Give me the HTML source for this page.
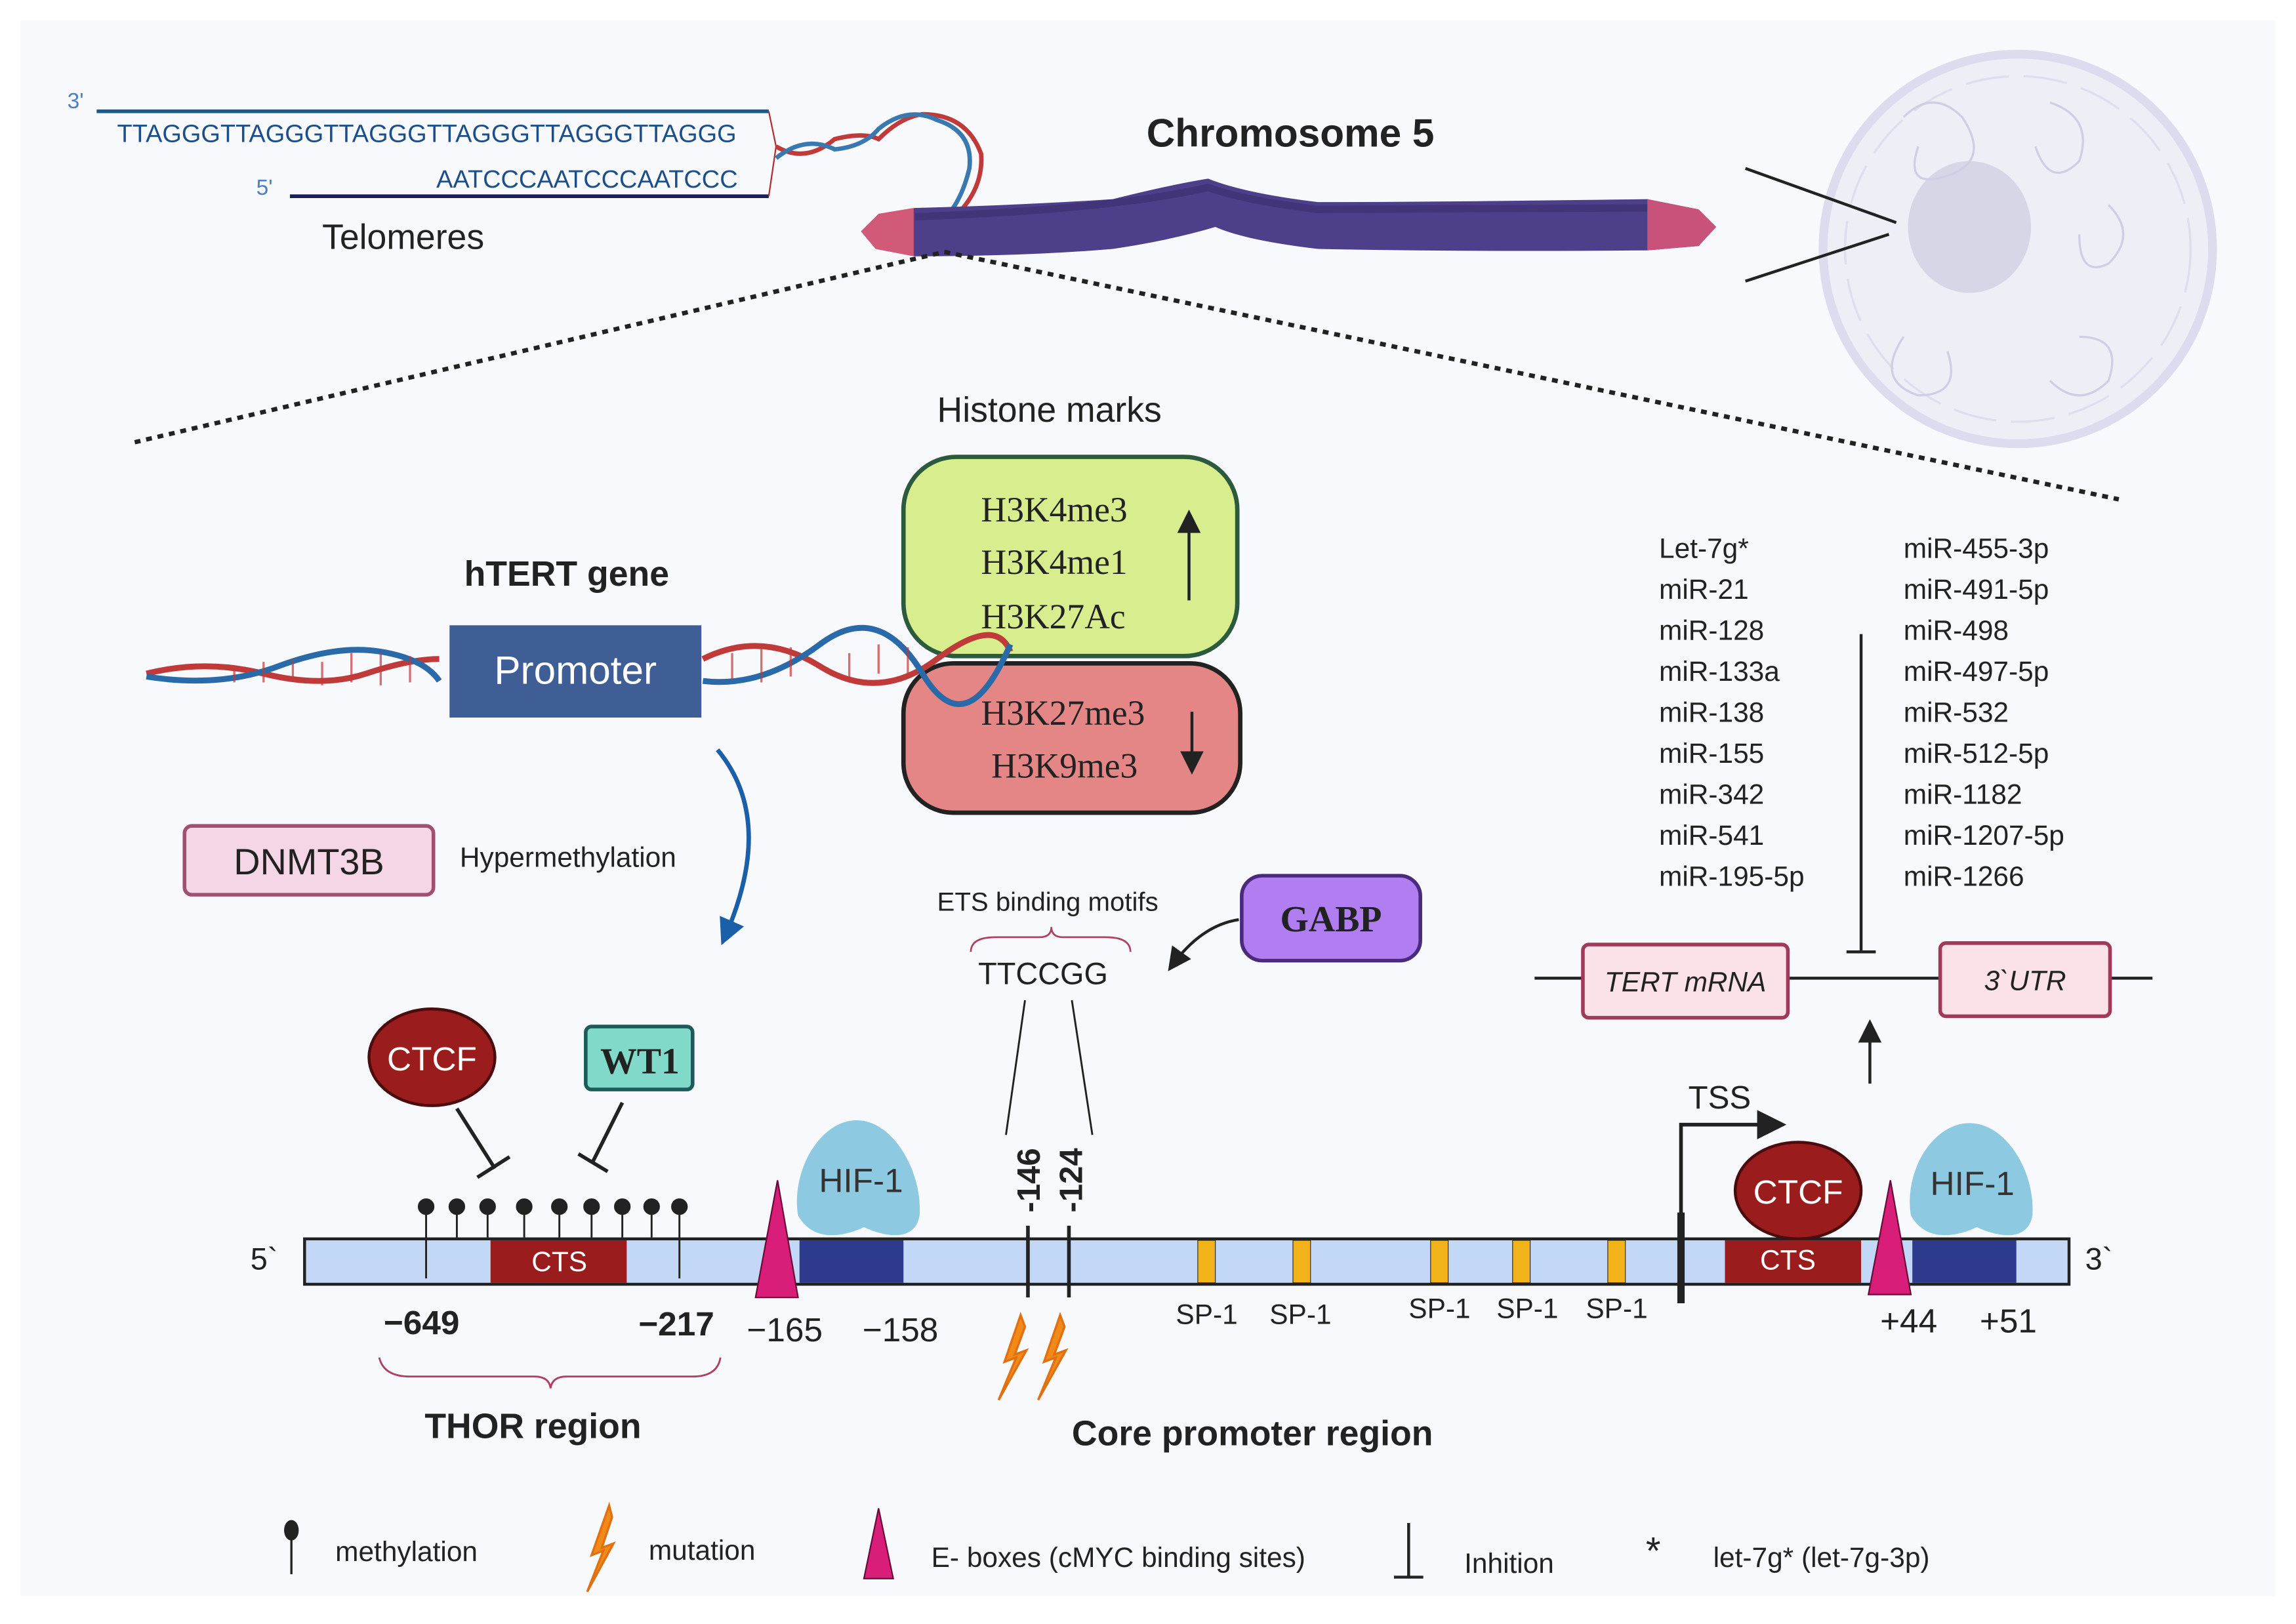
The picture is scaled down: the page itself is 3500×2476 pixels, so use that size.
<!DOCTYPE html>
<html><head><meta charset="utf-8"><style>
html,body{margin:0;padding:0;background:#fff}
svg{display:block}
text{font-family:"Liberation Sans",sans-serif}
.s{font-family:"Liberation Serif",serif}
</style></head><body>
<svg width="3500" height="2476" viewBox="0 0 1568 1109" preserveAspectRatio="none" xmlns="http://www.w3.org/2000/svg">
<defs>
<marker id="ah" markerWidth="8" markerHeight="8" refX="6" refY="4" orient="auto"><path d="M0,0 L8,4 L0,8 z" fill="#222"/></marker>
<marker id="ab" markerWidth="6" markerHeight="6" refX="4" refY="3" orient="auto"><path d="M0,0 L6,3 L0,6 z" fill="#1a5fa8"/></marker>
</defs>
<rect x="0" y="0" width="1568" height="1109" fill="#fff"/>
<rect x="14" y="14" width="1540" height="1076" fill="#f8f9fc"/>

<!-- telomeres -->
<text x="46" y="74" font-size="15" fill="#4a7fc4">3'</text>
<line x1="66" y1="76" x2="525" y2="76" stroke="#1c5a8a" stroke-width="2.5"/>
<text x="80" y="97" font-size="17" fill="#1c4f8a">TTAGGGTTAGGGTTAGGGTTAGGGTTAGGGTTAGGG</text>
<text x="298" y="128" font-size="17" fill="#1c4f8a">AATCCCAATCCCAATCCC</text>
<text x="175" y="133" font-size="15" fill="#4a7fc4">5'</text>
<line x1="198" y1="134" x2="525" y2="134" stroke="#1a1f5a" stroke-width="2.5"/>
<path d="M525,76 L530,100 L525,134" fill="none" stroke="#b03030" stroke-width="1"/>
<path d="M530,100 Q550,112 570,95 Q590,90 600,95 Q615,80 630,78 Q660,78 670,105 Q672,130 650,150 Q630,165 620,150" fill="none" stroke="#c03a3a" stroke-width="3"/>
<path d="M530,108 Q550,92 570,102 Q590,100 600,88 Q620,72 640,82 Q665,90 662,115 Q655,145 635,158 Q615,160 608,148" fill="none" stroke="#3a78b0" stroke-width="3"/>
<text x="220" y="170" font-size="24" fill="#222">Telomeres</text>

<!-- chromosome -->
<text x="783" y="100" font-size="27" font-weight="bold" fill="#222">Chromosome 5</text>
<path d="M600,146 L625,142 Q700,140 760,136 Q800,126 825,122 Q850,132 900,138 Q980,138 1125,136 L1160,143 L1172,155 L1160,168 L1125,171 Q1000,172 900,170 Q850,164 830,155 Q800,164 760,170 Q700,175 625,175 L598,170 L588,158 z" fill="#4e3f8a"/>
<path d="M600,146 L624,142 L624,175 L598,170 L588,158 z" fill="#d05a78"/>
<path d="M1125,136 L1160,143 L1172,155 L1160,168 L1125,171 z" fill="#c8527a"/>
<path d="M625,148 Q760,143 825,128 Q850,137 900,143 L1125,142" fill="none" stroke="#3a2d6e" stroke-width="5" opacity="0.6"/>

<!-- cell -->
<circle cx="1378" cy="170" r="133" fill="#eeeef7" stroke="#dcdcee" stroke-width="6"/>
<circle cx="1378" cy="170" r="118" fill="none" stroke="#dedeee" stroke-width="1.5" stroke-dasharray="30 10"/>
<ellipse cx="1345" cy="155" rx="42" ry="45" fill="#d6d6e6"/>
<path d="M1300,80 q20,-20 40,0 q20,30 -10,40 q-30,10 -20,-20 M1400,70 q30,10 20,40 q-20,20 -30,-10 M1420,230 q30,0 20,30 q-20,20 -40,0 M1300,230 q-20,30 10,40 q30,0 20,-30 M1440,140 q20,20 0,40 q-20,10 -20,-20" fill="none" stroke="#cfcfe3" stroke-width="1.5"/>
<line x1="1192" y1="115" x2="1295" y2="152" stroke="#222" stroke-width="2"/>
<line x1="1192" y1="192" x2="1290" y2="160" stroke="#222" stroke-width="2"/>

<!-- dashed zoom lines -->
<line x1="92" y1="302" x2="645" y2="172" stroke="#222" stroke-width="3" stroke-dasharray="4 4"/>
<line x1="645" y1="172" x2="1447" y2="341" stroke="#222" stroke-width="3" stroke-dasharray="4 4"/>

<!-- histone -->
<text x="640" y="288" font-size="24" fill="#222">Histone marks</text>
<rect x="617" y="312" width="228" height="136" rx="36" fill="#d8ee8e" stroke="#2c5a3c" stroke-width="3"/>
<text class="s" x="670" y="356" font-size="24" fill="#222">H3K4me3</text>
<text class="s" x="670" y="392" font-size="24" fill="#222">H3K4me1</text>
<text class="s" x="670" y="429" font-size="24" fill="#222">H3K27Ac</text>
<line x1="812" y1="410" x2="812" y2="352" stroke="#222" stroke-width="2" marker-end="url(#ah)"/>
<rect x="617" y="453" width="230" height="102" rx="34" fill="#e48686" stroke="#222" stroke-width="3"/>
<text class="s" x="670" y="495" font-size="24" fill="#222">H3K27me3</text>
<text class="s" x="677" y="531" font-size="24" fill="#222">H3K9me3</text>
<line x1="814" y1="486" x2="814" y2="525" stroke="#222" stroke-width="2" marker-end="url(#ah)"/>

<!-- hTERT gene DNA -->
<text x="317" y="400" font-size="24" font-weight="bold" fill="#222">hTERT gene</text>
<path d="M100,460 Q140,450 180,460 T250,460 T300,450 M480,450 Q520,430 560,455 T640,450 T690,445" fill="none" stroke="#c03a3a" stroke-width="4"/>
<path d="M100,462 Q150,470 190,455 T260,445 T300,465 M480,465 Q520,470 560,440 T630,460 T690,440" fill="none" stroke="#2a6aa8" stroke-width="4"/>
<path d="M160,458 v8 M180,452 v14 M200,450 v14 M220,452 v16 M240,446 v20 M260,446 v22 M280,448 v18 M500,446 v18 M520,440 v26 M540,442 v20 M580,446 v18 M600,440 v20 M620,442 v18" stroke="#c03a3a" stroke-width="1.5" opacity="0.7"/>
<rect x="307" y="427" width="172" height="63" fill="#3f5e95"/>
<text x="393" y="467" font-size="27" fill="#fff" text-anchor="middle">Promoter</text>
<path d="M490,512 Q530,560 495,640" fill="none" stroke="#1a5fa8" stroke-width="3" marker-end="url(#ab)"/>

<!-- DNMT3B -->
<rect x="126" y="564" width="170" height="47" rx="5" fill="#f5d6e6" stroke="#a05070" stroke-width="2.5"/>
<text x="211" y="597" font-size="25" fill="#222" text-anchor="middle">DNMT3B</text>
<text x="314" y="592" font-size="19" fill="#222">Hypermethylation</text>

<!-- ETS -->
<text x="640" y="622" font-size="18" fill="#222">ETS binding motifs</text>
<path d="M663,650 Q663,640 680,640 L710,640 Q718,640 718,633 Q718,640 726,640 L755,640 Q772,640 772,650" fill="none" stroke="#b04060" stroke-width="1.2"/>
<text x="668" y="672" font-size="21" fill="#222">TTCCGG</text>
<rect x="848" y="598" width="122" height="58" rx="14" fill="#b07ef0" stroke="#4a2a7a" stroke-width="2.5"/>
<text class="s" x="909" y="636" font-size="25" font-weight="bold" fill="#222" text-anchor="middle">GABP</text>
<path d="M846,628 Q820,632 800,660" fill="none" stroke="#222" stroke-width="2" marker-end="url(#ah)"/>
<line x1="700" y1="683" x2="687" y2="775" stroke="#222" stroke-width="1.3"/>
<line x1="732" y1="683" x2="746" y2="775" stroke="#222" stroke-width="1.3"/>

<!-- miRNAs -->
<g font-size="19" fill="#222">
<text x="1133" y="381">Let-7g*</text><text x="1133" y="409">miR-21</text><text x="1133" y="437">miR-128</text><text x="1133" y="465">miR-133a</text><text x="1133" y="493">miR-138</text><text x="1133" y="521">miR-155</text><text x="1133" y="549">miR-342</text><text x="1133" y="577">miR-541</text><text x="1133" y="605">miR-195-5p</text>
<text x="1300" y="381">miR-455-3p</text><text x="1300" y="409">miR-491-5p</text><text x="1300" y="437">miR-498</text><text x="1300" y="465">miR-497-5p</text><text x="1300" y="493">miR-532</text><text x="1300" y="521">miR-512-5p</text><text x="1300" y="549">miR-1182</text><text x="1300" y="577">miR-1207-5p</text><text x="1300" y="605">miR-1266</text>
</g>
<line x1="1271" y1="433" x2="1271" y2="650" stroke="#222" stroke-width="2"/>
<line x1="1261" y1="650" x2="1281" y2="650" stroke="#222" stroke-width="2"/>
<line x1="1048" y1="668" x2="1470" y2="668" stroke="#222" stroke-width="2"/>
<rect x="1081" y="645" width="140" height="50" rx="4" fill="#fbe2e8" stroke="#a03a5a" stroke-width="2.5"/>
<text x="1151" y="677" font-size="19" font-style="italic" fill="#222" text-anchor="middle">TERT mRNA</text>
<rect x="1325" y="644" width="116" height="50" rx="4" fill="#fbe2e8" stroke="#a03a5a" stroke-width="2.5"/>
<text x="1383" y="676" font-size="19" font-style="italic" fill="#222" text-anchor="middle">3`UTR</text>
<line x1="1277" y1="740" x2="1277" y2="700" stroke="#222" stroke-width="2" marker-end="url(#ah)"/>

<!-- CTCF / WT1 -->
<ellipse cx="295" cy="722" rx="43" ry="33" fill="#9a1c1c" stroke="#4a0c0c" stroke-width="2"/>
<text x="295" y="731" font-size="23" fill="#fff" text-anchor="middle">CTCF</text>
<rect x="400" y="701" width="73" height="43" rx="4" fill="#80d9c9" stroke="#1d5a5a" stroke-width="2.5"/>
<text class="s" x="437" y="733" font-size="25" font-weight="bold" fill="#222" text-anchor="middle">WT1</text>
<line x1="312" y1="757" x2="338" y2="798" stroke="#222" stroke-width="2.5"/>
<line x1="326" y1="804" x2="348" y2="790" stroke="#222" stroke-width="2.5"/>
<line x1="425" y1="753" x2="405" y2="793" stroke="#222" stroke-width="2.5"/>
<line x1="395" y1="788" x2="415" y2="800" stroke="#222" stroke-width="2.5"/>

<!-- main bar -->
<rect x="208" y="846" width="1205" height="31" fill="#c2d8f6" stroke="#222" stroke-width="2"/>
<rect x="335" y="847" width="93" height="29" fill="#9a1c1c"/>
<text x="382" y="868" font-size="19" fill="#fff" text-anchor="middle">CTS</text>
<rect x="546" y="847" width="71" height="29" fill="#2e3a8e"/>
<rect x="1178" y="847" width="93" height="29" fill="#9a1c1c"/>
<text x="1221" y="867" font-size="19" fill="#fff" text-anchor="middle">CTS</text>
<rect x="1306" y="847" width="71" height="29" fill="#2e3a8e"/>
<g fill="#f2b21a" stroke="#222" stroke-width="0.5"><rect x="818" y="847" width="12" height="29"/><rect x="883" y="847" width="12" height="29"/><rect x="977" y="847" width="12" height="29"/><rect x="1033" y="847" width="12" height="29"/><rect x="1098" y="847" width="12" height="29"/></g>
<text x="171" y="867" font-size="21" fill="#222">5`</text>
<text x="1424" y="867" font-size="21" fill="#222">3`</text>

<!-- methylation lollipops -->
<g stroke="#222" stroke-width="1.3" fill="#222">
<line x1="291" y1="824" x2="291" y2="873"/><circle cx="291" cy="824" r="5"/>
<line x1="312" y1="824" x2="312" y2="845"/><circle cx="312" cy="824" r="5"/>
<line x1="333" y1="824" x2="333" y2="845"/><circle cx="333" cy="824" r="5"/>
<line x1="358" y1="824" x2="358" y2="845"/><circle cx="358" cy="824" r="5"/>
<line x1="382" y1="824" x2="382" y2="845"/><circle cx="382" cy="824" r="5"/>
<line x1="404" y1="824" x2="404" y2="845"/><circle cx="404" cy="824" r="5"/>
<line x1="425" y1="824" x2="425" y2="845"/><circle cx="425" cy="824" r="5"/>
<line x1="445" y1="824" x2="445" y2="845"/><circle cx="445" cy="824" r="5"/>
<line x1="464" y1="824" x2="464" y2="873"/><circle cx="464" cy="824" r="5"/>
</g>

<!-- E-boxes -->
<path d="M531,806 L545,886 L516,886 z" fill="#d81e78" stroke="#6a0c3a" stroke-width="1"/>
<path d="M1291,806 L1305,884 L1276,884 z" fill="#d81e78" stroke="#6a0c3a" stroke-width="1"/>

<!-- HIF-1 -->
<path d="M585,765 C610,765 630,800 628,830 C625,848 605,845 590,838 C575,845 555,848 545,830 C540,800 560,765 585,765 z" fill="#8dcae2"/>
<text x="588" y="814" font-size="23" fill="#333" text-anchor="middle">HIF-1</text>
<path d="M1345,767 C1370,767 1390,800 1388,830 C1385,848 1365,845 1350,838 C1335,845 1315,848 1305,830 C1300,800 1320,767 1345,767 z" fill="#8dcae2"/>
<text x="1347" y="816" font-size="23" fill="#333" text-anchor="middle">HIF-1</text>
<ellipse cx="1228" cy="813" rx="43" ry="33" fill="#9a1c1c" stroke="#4a0c0c" stroke-width="2"/>
<text x="1228" y="822" font-size="23" fill="#fff" text-anchor="middle">CTCF</text>

<!-- -146 -124 -->
<line x1="702" y1="837" x2="702" y2="886" stroke="#222" stroke-width="2.5"/>
<line x1="730" y1="837" x2="730" y2="886" stroke="#222" stroke-width="2.5"/>
<text transform="translate(710,828) rotate(-90)" font-size="22" font-weight="bold" fill="#222">-146</text>
<text transform="translate(739,828) rotate(-90)" font-size="22" font-weight="bold" fill="#222">-124</text>

<!-- TSS -->
<line x1="1148" y1="828" x2="1148" y2="890" stroke="#222" stroke-width="5"/>
<path d="M1148,830 L1148,768 L1215,768" fill="none" stroke="#222" stroke-width="2.5" marker-end="url(#ah)"/>
<text x="1153" y="757" font-size="22" fill="#222">TSS</text>

<!-- position labels -->
<text x="262" y="911" font-size="23" font-weight="bold" fill="#222">−649</text>
<text x="436" y="912" font-size="23" font-weight="bold" fill="#222">−217</text>
<text x="510" y="916" font-size="23" fill="#222">−165</text>
<text x="589" y="916" font-size="23" fill="#222">−158</text>
<g font-size="19" fill="#222"><text x="803" y="904">SP-1</text><text x="867" y="904">SP-1</text><text x="962" y="900">SP-1</text><text x="1022" y="900">SP-1</text><text x="1083" y="900">SP-1</text></g>
<text x="1284" y="910" font-size="23" fill="#222">+44</text>
<text x="1352" y="910" font-size="23" fill="#222">+51</text>

<!-- mutations -->
<path d="M697,898 L686,930 L694,927 L682,956 L701,922 L693,925 L700,906 z" fill="#f28a1a" stroke="#e07010" stroke-width="1.5"/>
<path d="M724,898 L713,930 L721,927 L709,956 L728,922 L720,925 L727,906 z" fill="#f28a1a" stroke="#e07010" stroke-width="1.5"/>

<!-- THOR brace -->
<path d="M259,927 Q262,940 280,940 L365,940 Q375,940 376,948 Q377,940 387,940 L473,940 Q490,940 492,927" fill="none" stroke="#b04060" stroke-width="1.3"/>
<text x="290" y="982" font-size="24" font-weight="bold" fill="#222">THOR region</text>
<text x="732" y="987" font-size="24" font-weight="bold" fill="#222">Core promoter region</text>

<!-- legend -->
<line x1="199" y1="1045" x2="199" y2="1075" stroke="#222" stroke-width="1.5"/><ellipse cx="199" cy="1045" rx="5" ry="7" fill="#222"/>
<text x="229" y="1066" font-size="19" fill="#222">methylation</text>
<path d="M416,1028 L404,1062 L412,1059 L401,1087 L419,1054 L411,1057 L418,1036 z" fill="#f28a1a" stroke="#e07010" stroke-width="1.5"/>
<text x="443" y="1065" font-size="19" fill="#222">mutation</text>
<path d="M600,1030 L610,1078 L590,1078 z" fill="#d81e78" stroke="#6a0c3a" stroke-width="1"/>
<text x="636" y="1070" font-size="19" fill="#222">E- boxes (cMYC binding sites)</text>
<line x1="962" y1="1040" x2="962" y2="1077" stroke="#222" stroke-width="2"/><line x1="952" y1="1077" x2="972" y2="1077" stroke="#222" stroke-width="2"/>
<text x="1000" y="1074" font-size="19" fill="#222">Inhition</text>
<text x="1124" y="1068" font-size="26" fill="#222">*</text>
<text x="1170" y="1070" font-size="19" fill="#222">let-7g* (let-7g-3p)</text>
</svg>
</body></html>
